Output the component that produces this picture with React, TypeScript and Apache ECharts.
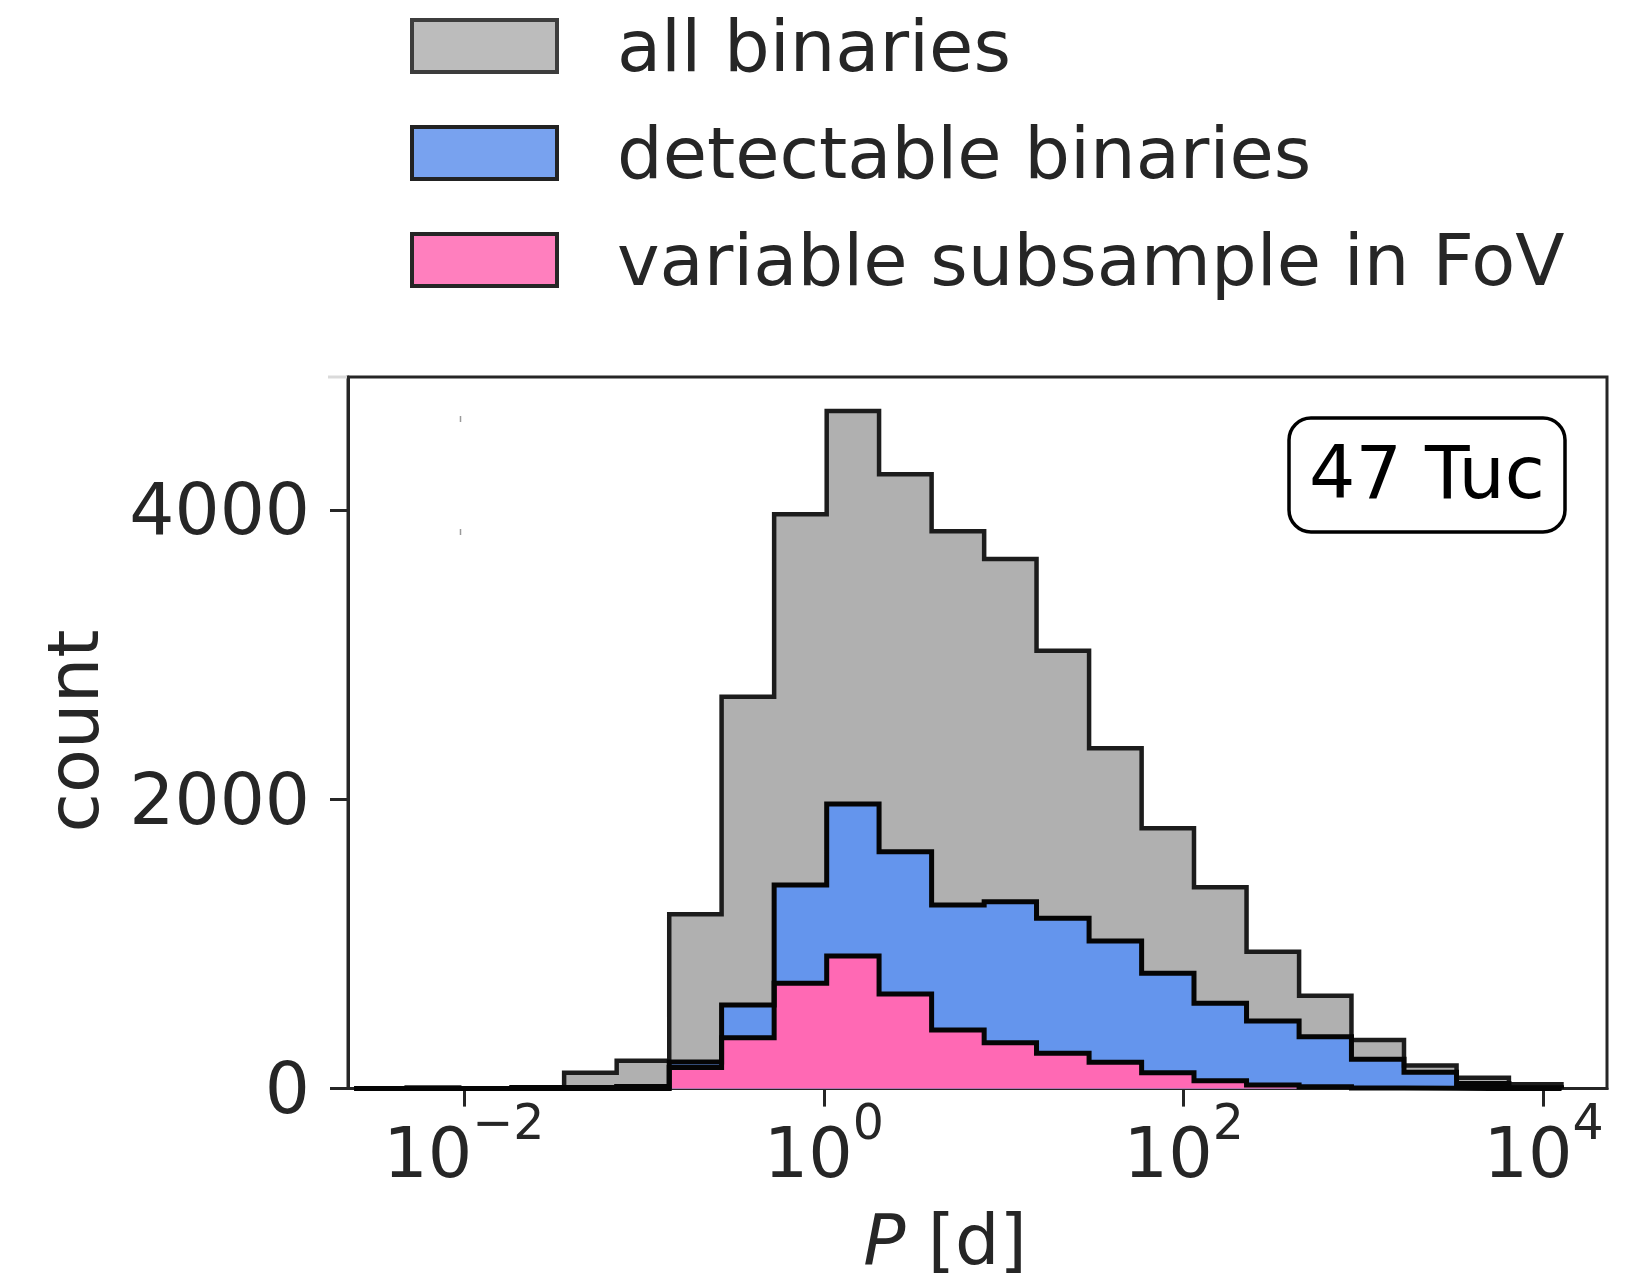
import React, { useEffect, useRef } from "react";
import * as echarts from "echarts";

// Histogram bin edges, in log10(P / d)
const binEdgesLog = [
  -2.609, -2.318, -2.026, -1.734, -1.443, -1.151, -0.859, -0.568, -0.276, 0.016,
  0.307, 0.599, 0.891, 1.182, 1.474, 1.766, 2.057, 2.349, 2.641, 2.932, 3.224,
  3.516, 3.807, 4.099,
];

// Counts per bin
const allBinaries = [
  0, 8, 3, 4, 110, 193, 1205, 2709, 3970, 4684, 4246, 3852, 3661, 3027, 2352,
  1799, 1391, 946, 642, 336, 160, 75, 30,
];
const detectableBinaries = [
  0, 0, 0, 8, 10, 15, 184, 578, 1407, 1967, 1638, 1269, 1292, 1177, 1020, 797,
  590, 467, 359, 203, 113, 35, 6,
];
const variableSubsample = [
  0, 0, 0, 0, 0, 0, 145, 352, 728, 917, 654, 405, 317, 244, 182, 110, 55, 25,
  12, 5, 2, 0, 0,
];

const seriesNames = [
  "all binaries",
  "detectable binaries",
  "variable subsample in FoV",
];

const xTickValues = [-2, 0, 2, 4];
const xTickExponents = ["\u22122", "0", "2", "4"];
const yTickValues = [0, 2000, 4000];
const yTickLabels = ["0", "2000", "4000"];

const FONT = "DejaVu Sans";
const TXT = "#262626";

function stepData(counts: number[]): number[][] {
  const n = counts.length;
  const pts: number[][] = [[binEdgesLog[0], 0]];
  for (let i = 0; i < n; i++) pts.push([binEdgesLog[i], counts[i]]);
  pts.push([binEdgesLog[n], counts[n - 1]]);
  pts.push([binEdgesLog[n], 0]);
  return pts;
}

function histSeries(name: string, counts: number[], fill: string, stroke: string, width: number) {
  return {
    name,
    type: "line",
    step: "end",
    data: stepData(counts),
    showSymbol: false,
    symbol: "none",
    lineStyle: { color: stroke, width, join: "miter" },
    itemStyle: { color: fill, borderColor: stroke },
    areaStyle: { color: fill, opacity: 1 },
    emphasis: { disabled: true },
    silent: true,
  };
}

export default function App() {
  const ref = useRef<HTMLDivElement>(null);

  useEffect(() => {
    if (!ref.current) return;
    const chart = echarts.init(ref.current, null, { renderer: "svg" });
    const option: any = {
      animation: false,
      backgroundColor: "#ffffff",
      textStyle: { fontFamily: FONT },
      grid: {
        left: 348,
        top: 377,
        width: 1259,
        height: 711.6,
        show: true,
        borderColor: TXT,
        borderWidth: 3,
        backgroundColor: "transparent",
        outerBoundsMode: "none",
        containLabel: false,
      },
      legend: {
        show: true,
        orient: "vertical",
        left: 405,
        top: 5,
        itemWidth: 145,
        itemHeight: 52,
        itemGap: 35,
        selectedMode: false,
        textStyle: {
          fontSize: 72,
          fontFamily: FONT,
          color: TXT,
          padding: [0, 0, 0, 55],
        },
        data: [
          {
            name: seriesNames[0],
            icon: "rect",
            itemStyle: { color: "#bcbcbc", borderColor: "#3d3d3d", borderWidth: 4 },
          },
          {
            name: seriesNames[1],
            icon: "rect",
            itemStyle: { color: "#78a2ef", borderColor: "#222222", borderWidth: 4 },
          },
          {
            name: seriesNames[2],
            icon: "rect",
            itemStyle: { color: "#ff7fbe", borderColor: "#262626", borderWidth: 4 },
          },
        ],
      },
      xAxis: {
        type: "value",
        min: -2.644,
        max: 4.352,
        axisLine: { show: true, onZero: false, lineStyle: { color: TXT, width: 3 } },
        axisTick: {
          show: true,
          customValues: xTickValues,
          length: 18,
          lineStyle: { color: TXT, width: 3 },
        },
        axisLabel: {
          show: true,
          customValues: xTickValues,
          margin: 9,
          color: TXT,
          fontFamily: FONT,
          formatter: (v: number) => {
            const i = xTickValues.indexOf(Math.round(v));
            return "{m|10}{s|" + xTickExponents[i] + "}";
          },
          rich: {
            m: {
              fontSize: 70,
              fontFamily: FONT,
              color: TXT,
              padding: [20, 0, 0, 0],
              verticalAlign: "bottom",
            },
            s: {
              fontSize: 49,
              fontFamily: FONT,
              color: TXT,
              verticalAlign: "top",
            },
          },
        },
        splitLine: { show: false },
      },
      yAxis: {
        type: "value",
        min: 0,
        max: 4919,
        axisLine: { show: true, onZero: false, lineStyle: { color: TXT, width: 3 } },
        axisTick: {
          show: true,
          customValues: yTickValues,
          length: 18,
          lineStyle: { color: TXT, width: 3 },
        },
        axisLabel: {
          show: true,
          customValues: yTickValues,
          margin: 38,
          fontSize: 71,
          fontFamily: FONT,
          color: TXT,
          formatter: (v: number) => {
            const i = yTickValues.indexOf(Math.round(v));
            return i >= 0 ? yTickLabels[i] : String(v);
          },
        },
        splitLine: { show: false },
      },
      series: [
        histSeries(seriesNames[0], allBinaries, "#b0b0b0", "#1c1c1c", 4.5),
        histSeries(seriesNames[1], detectableBinaries, "#6495ed", "#050505", 5),
        histSeries(seriesNames[2], variableSubsample, "#ff69b4", "#050505", 5),
      ],
      graphic: [
        {
          type: "text",
          x: 73,
          y: 731,
          rotation: Math.PI / 2,
          style: {
            text: "count",
            fontSize: 72,
            fontFamily: FONT,
            fill: TXT,
            align: "center",
            verticalAlign: "middle",
          },
        },
        {
          type: "text",
          x: 945,
          y: 1240,
          style: {
            text: "{i|P} [d]",
            fontSize: 70,
            lineHeight: 72,
            fontFamily: FONT,
            fill: TXT,
            align: "center",
            verticalAlign: "middle",
            rich: {
              i: { fontSize: 70, lineHeight: 72, fontFamily: FONT, fontStyle: "italic", fill: TXT },
            },
          },
        },
        {
          type: "group",
          children: [
            {
              type: "rect",
              shape: { x: 1289, y: 418, width: 276, height: 114, r: 22 },
              style: { fill: "#ffffff", stroke: "#000000", lineWidth: 3.5 },
            },
            {
              type: "text",
              x: 1427,
              y: 472,
              style: {
                text: "47 Tuc",
                fontSize: 73,
                fontFamily: FONT,
                fill: "#000000",
                align: "center",
                verticalAlign: "middle",
              },
            },
          ],
        },
        {
          type: "line",
          shape: { x1: 328, y1: 377, x2: 347, y2: 377 },
          style: { stroke: "#dadada", lineWidth: 3 },
        },
        {
          type: "line",
          shape: { x1: 460.5, y1: 416, x2: 460.5, y2: 422 },
          style: { stroke: "#9a9a9a", lineWidth: 1.5 },
        },
        {
          type: "line",
          shape: { x1: 460.5, y1: 529, x2: 460.5, y2: 535 },
          style: { stroke: "#9a9a9a", lineWidth: 1.5 },
        },
      ],
    };
    chart.setOption(option);
    return () => chart.dispose();
  }, []);

  return (
    <div
      ref={ref}
      style={{ position: "absolute", left: 0, top: 0, width: 1630, height: 1283, background: "#fff" }}
    />
  );
}
